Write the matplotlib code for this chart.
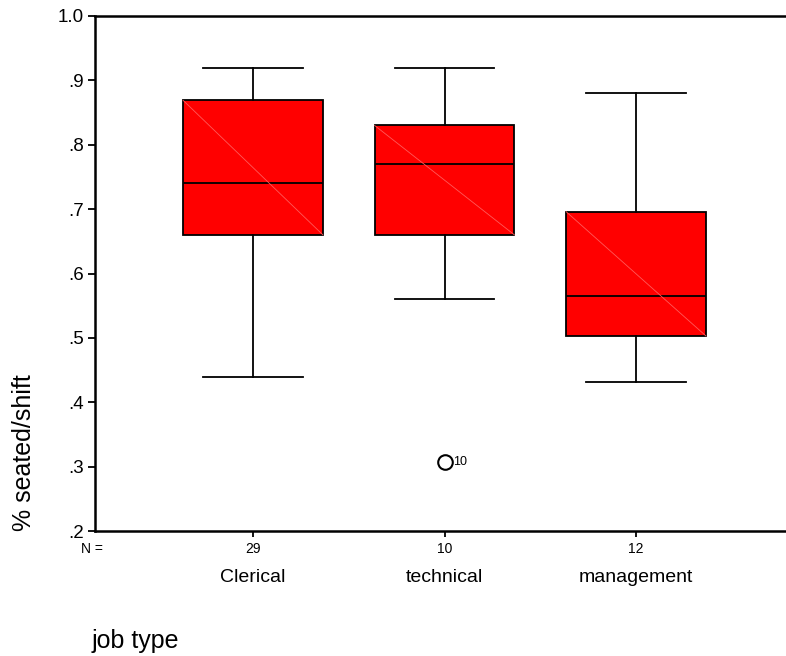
import matplotlib
matplotlib.use("Agg")
import matplotlib.pyplot as plt
from matplotlib.transforms import blended_transform_factory

plt.rcParams['font.family'] = ['Liberation Sans', 'DejaVu Sans']

# Summary statistics per job type
categories = ["Clerical", "technical", "management"]
counts = [29, 10, 12]
whisker_low = [0.44, 0.56, 0.431]
q1 = [0.66, 0.66, 0.503]
median = [0.741, 0.77, 0.565]
q3 = [0.869, 0.830, 0.696]
whisker_high = [0.92, 0.92, 0.88]
outlier_values = [[], [0.307], []]
outlier_ids = [[], ["10"], []]

yticks = [0.2, 0.3, 0.4, 0.5, 0.6, 0.7, 0.8, 0.9, 1.0]
ytick_labels = [".2", ".3", ".4", ".5", ".6", ".7", ".8", ".9", "1.0"]

positions = [1, 2, 3]
box_width = 0.73

fig = plt.figure(figsize=(7.86, 6.56), dpi=100)
ax = fig.add_axes([95 / 786, 1 - 531 / 656, 1 - 95 / 786, (531 - 16) / 656])

stats = []
for i, name in enumerate(categories):
    stats.append(dict(label=name, whislo=whisker_low[i], q1=q1[i], med=median[i],
                      q3=q3[i], whishi=whisker_high[i], fliers=[]))

ax.bxp(stats, positions=positions, widths=box_width, patch_artist=True,
       showfliers=False, capwidths=0.52,
       boxprops=dict(facecolor="#ff0000", edgecolor="black", linewidth=1.3),
       medianprops=dict(color="black", linewidth=1.3),
       whiskerprops=dict(color="black", linewidth=1.3),
       capprops=dict(color="black", linewidth=1.3))

# Faint diagonal across each box
for i, x in enumerate(positions):
    ax.plot([x - box_width / 2, x + box_width / 2], [q3[i], q1[i]],
            color="#ff5a5a", linewidth=0.6, zorder=2.5)

# Outliers with case labels
for i, x in enumerate(positions):
    for v, lab in zip(outlier_values[i], outlier_ids[i]):
        ax.plot(x, v, marker="o", markersize=10.5, markerfacecolor="white",
                markeredgecolor="black", markeredgewidth=1.5, zorder=4)
        ax.text(x + 0.045, v, lab, fontsize=9, va="center", ha="left")

ax.set_xlim(0.175, 3.783)
ax.set_ylim(0.2, 1.0)
ax.set_yticks(yticks)
ax.set_yticklabels(ytick_labels, fontsize=13.5)
ax.set_xticks(positions)
ax.set_xticklabels([str(c) for c in counts], fontsize=10)

for side in ("left", "bottom", "top"):
    ax.spines[side].set_linewidth(1.8)
ax.spines["right"].set_visible(False)
ax.tick_params(axis="y", direction="out", length=5, width=1.3, pad=3)
ax.tick_params(axis="x", direction="out", length=4, width=1.3, pad=4)

tr = blended_transform_factory(ax.transData, fig.transFigure)
for x, name in zip(positions, categories):
    ax.text(x, 1 - 578 / 656, name, transform=tr, ha="center", va="center", fontsize=14)

fig.text(81 / 786, 1 - 549 / 656, "N =", fontsize=10, ha="left", va="center")
fig.text(92 / 786, 1 - 648 / 656, "job type", fontsize=18, ha="left", va="baseline")
fig.text(24 / 786, 1 - 453 / 656, "% seated/shift", fontsize=18, rotation=90,
         ha="center", va="center")

fig.savefig("out.png", dpi=100)
